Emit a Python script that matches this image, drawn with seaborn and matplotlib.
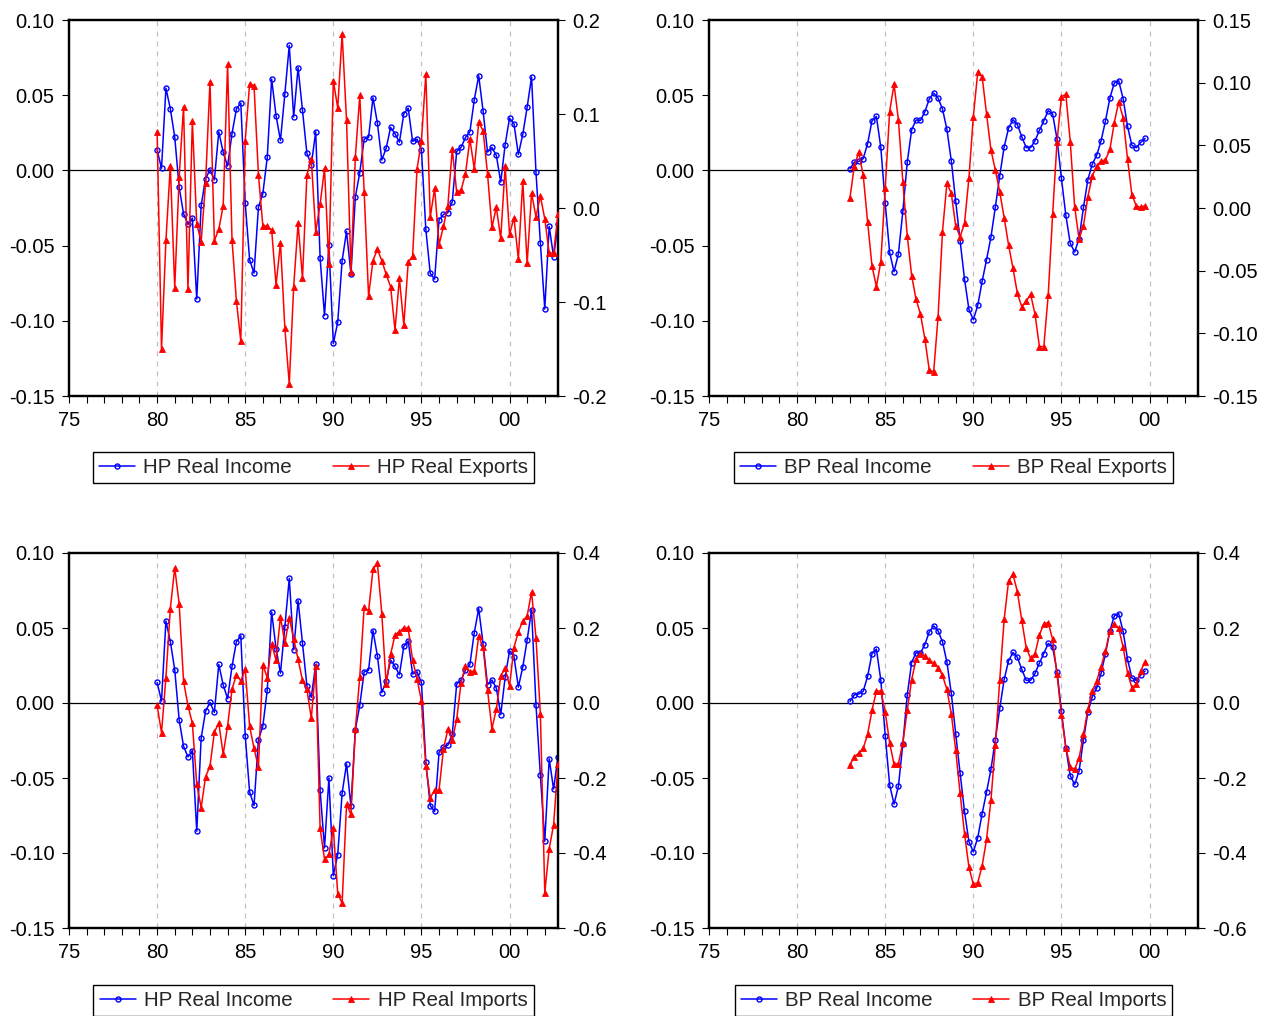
import numpy as np
import pandas as pd
import matplotlib
matplotlib.use("Agg")
import matplotlib.pyplot as plt
import seaborn as sns
from matplotlib.lines import Line2D
from matplotlib.ticker import MultipleLocator

sns.set_style("ticks")
plt.rcParams['font.family'] = ['Liberation Sans', 'DejaVu Sans']

# ---------------- data ----------------
hp_start = 1980.0      # 1980Q1 .. 2002Q4
bp_start = 1983.0      # 1983Q1 .. 1999Q4

hp_income = [0.0137, 0.0013, 0.0547, 0.0410, 0.0222, -0.0111, -0.0288, -0.0359, -0.0317, -0.0855,
             -0.0233, -0.0055, 0.0004, -0.0062, 0.0257, 0.0120, 0.0029, 0.0244, 0.0408, 0.0448,
             -0.0217, -0.0594, -0.0683, -0.0244, -0.0155, 0.0086, 0.0607, 0.0363, 0.0199, 0.0510,
             0.0831, 0.0355, 0.0683, 0.0399, 0.0115, 0.0038, 0.0257, -0.0583, -0.0966, -0.0499,
             -0.1150, -0.1010, -0.0600, -0.0406, -0.0687, -0.0177, -0.0016, 0.0208, 0.0219, 0.0483,
             0.0315, 0.0069, 0.0148, 0.0286, 0.0244, 0.0188, 0.0377, 0.0414, 0.0193, 0.0208,
             0.0137, -0.0392, -0.0685, -0.0723, -0.0328, -0.0293, -0.0281, -0.0208, 0.0126, 0.0153,
             0.0219, 0.0257, 0.0470, 0.0629, 0.0394, 0.0122, 0.0153, 0.0100, -0.0078, 0.0171,
             0.0348, 0.0310, 0.0106, 0.0239, 0.0421, 0.0621, -0.0011, -0.0483, -0.0922, -0.0372,
             -0.0574, -0.0357]

hp_exports = [0.0812, -0.1500, -0.0344, 0.0450, -0.0848, 0.0326, 0.1078, -0.0862, 0.0926, -0.0170,
              -0.0358, 0.0266, 0.1344, -0.0348, -0.0227, 0.0025, 0.1528, -0.0337, -0.0989, -0.1418,
              0.0716, 0.1323, 0.1301, 0.0355, -0.0188, -0.0195, -0.0234, -0.0819, -0.0372, -0.1280,
              -0.1872, -0.0837, -0.0163, -0.0748, 0.0351, 0.0518, -0.0252, 0.0039, 0.0422, -0.0599,
              0.1355, 0.1064, 0.1851, 0.0933, -0.0677, 0.0543, 0.1199, 0.0174, -0.0936, -0.0560,
              -0.0440, -0.0560, -0.0706, -0.0837, -0.1298, -0.0748, -0.1245, -0.0578, -0.0511, 0.0415,
              0.0713, 0.1426, -0.0096, 0.0209, -0.0390, -0.0195, 0.0025, 0.0628, 0.0167, 0.0191,
              0.0365, 0.0734, 0.0415, 0.0911, 0.0823, 0.0365, -0.0206, 0.0007, -0.0323, 0.0443,
              -0.0280, -0.0103, -0.0543, 0.0287, -0.0589, 0.0160, -0.0096, 0.0128, -0.0117, -0.0479,
              -0.0479, -0.0067]

hp_imports = [-0.0062, -0.0790, 0.0676, 0.2516, 0.3610, 0.2650, 0.0587, -0.0071, -0.0542, -0.2169,
              -0.2791, -0.1964, -0.1689, -0.0773, -0.0533, -0.1369, -0.0613, 0.0364, 0.0756, 0.0587,
              0.0898, -0.0622, -0.1209, -0.1707, 0.1022, 0.0676, 0.1564, 0.1147, 0.2302, 0.1591,
              0.2276, 0.1716, 0.1164, 0.0604, 0.0364, -0.0409, 0.0987, -0.3342, -0.4169, -0.4036,
              -0.3342, -0.5084, -0.5342, -0.2702, -0.2969, -0.0702, 0.0693, 0.2560, 0.2453, 0.3564,
              0.3742, 0.2382, 0.0498, 0.1298, 0.1813, 0.1902, 0.2009, 0.1991, 0.1138, 0.0649,
              0.0053, -0.1680, -0.2524, -0.2320, -0.2320, -0.1227, -0.0702, -0.0996, -0.0436, 0.0542,
              0.0978, 0.0836, 0.0853, 0.1787, 0.1493, 0.0347, -0.0684, -0.0169, 0.0720, 0.0924,
              0.0453, 0.1476, 0.1902, 0.2178, 0.2320, 0.2960, 0.1742, -0.0284, -0.5058, -0.3884,
              -0.3253, -0.1636]

bp_income = [0.0011, 0.0055, 0.0060, 0.0078, 0.0177, 0.0330, 0.0359, 0.0153, -0.0217, -0.0545,
             -0.0674, -0.0554, -0.0273, 0.0053, 0.0270, 0.0335, 0.0332, 0.0390, 0.0474, 0.0514,
             0.0481, 0.0408, 0.0273, 0.0064, -0.0206, -0.0468, -0.0723, -0.0924, -0.0993, -0.0898,
             -0.0738, -0.0594, -0.0443, -0.0244, -0.0035, 0.0157, 0.0281, 0.0337, 0.0304, 0.0224,
             0.0151, 0.0151, 0.0197, 0.0266, 0.0330, 0.0397, 0.0375, 0.0208, -0.0053, -0.0299,
             -0.0485, -0.0543, -0.0454, -0.0246, -0.0062, 0.0042, 0.0100, 0.0197, 0.0330, 0.0481,
             0.0581, 0.0596, 0.0477, 0.0293, 0.0166, 0.0151, 0.0186, 0.0213]

bp_exports = [0.0082, 0.0338, 0.0444, 0.0263, -0.0109, -0.0463, -0.0628, -0.0428, 0.0157, 0.0769,
              0.0987, 0.0702, 0.0210, -0.0221, -0.0540, -0.0729, -0.0846, -0.1045, -0.1293, -0.1306,
              -0.0867, -0.0189, 0.0197, 0.0117, -0.0144, -0.0229, -0.0122, 0.0237, 0.0729, 0.1082,
              0.1048, 0.0750, 0.0463, 0.0303, 0.0128, -0.0077, -0.0295, -0.0481, -0.0681, -0.0787,
              -0.0742, -0.0689, -0.0846, -0.1106, -0.1106, -0.0694, -0.0051, 0.0529, 0.0888, 0.0907,
              0.0529, 0.0011, -0.0247, -0.0141, 0.0090, 0.0255, 0.0335, 0.0375, 0.0383, 0.0468,
              0.0681, 0.0848, 0.0721, 0.0391, 0.0104, 0.0016, 0.0005, 0.0019]

bp_imports = [-0.1644, -0.1431, -0.1342, -0.1209, -0.0836, -0.0196, 0.0320, 0.0320, -0.0240, -0.1058,
              -0.1636, -0.1618, -0.1058, -0.0196, 0.0622, 0.1164, 0.1316, 0.1253, 0.1147, 0.1058,
              0.0942, 0.0738, 0.0364, -0.0284, -0.1262, -0.2409, -0.3484, -0.4373, -0.4836, -0.4791,
              -0.4347, -0.3636, -0.2587, -0.1111, 0.0622, 0.2231, 0.3253, 0.3431, 0.2969, 0.2204,
              0.1476, 0.1191, 0.1316, 0.1813, 0.2116, 0.2142, 0.1698, 0.0764, -0.0329, -0.1191,
              -0.1707, -0.1769, -0.1476, -0.0836, -0.0169, 0.0320, 0.0587, 0.0969, 0.1387, 0.1920,
              0.2116, 0.1991, 0.1493, 0.0809, 0.0409, 0.0498, 0.0853, 0.1102]

x_tick_years = [1975, 1980, 1985, 1990, 1995, 2000]
x_tick_labels = ["75", "80", "85", "90", "95", "00"]

left_ticks = [0.10, 0.05, 0.00, -0.05, -0.10, -0.15]
left_labels = ["0.10", "0.05", "0.00", "-0.05", "-0.10", "-0.15"]

r1_ticks = [0.2, 0.1, 0.0, -0.1, -0.2]
r1_labels = ["0.2", "0.1", "0.0", "-0.1", "-0.2"]
r2_ticks = [0.15, 0.10, 0.05, 0.00, -0.05, -0.10, -0.15]
r2_labels = ["0.15", "0.10", "0.05", "0.00", "-0.05", "-0.10", "-0.15"]
r3_ticks = [0.4, 0.2, 0.0, -0.2, -0.4, -0.6]
r3_labels = ["0.4", "0.2", "0.0", "-0.2", "-0.4", "-0.6"]

hp_dates = hp_start + np.arange(len(hp_income)) / 4.0
bp_dates = bp_start + np.arange(len(bp_income)) / 4.0

W, H = 1267, 1016
fig = plt.figure(figsize=(W / 100, H / 100), dpi=100)
fig.patch.set_facecolor("white")

BLUE = "#0000FF"
RED = "#FF0000"
FS = 14.5
LFS = 14.8

panels = [
    dict(px=(69, 20, 558, 396), leg_top=452, x=hp_dates, left=hp_income, right=hp_exports,
         labels=("HP Real Income", "HP Real Exports"), rlim=(-0.2, 0.2), rt=r1_ticks, rl=r1_labels),
    dict(px=(709, 20, 1198, 396), leg_top=452, x=bp_dates, left=bp_income, right=bp_exports,
         labels=("BP Real Income", "BP Real Exports"), rlim=(-0.15, 0.15), rt=r2_ticks, rl=r2_labels),
    dict(px=(69, 553, 558, 928), leg_top=985, x=hp_dates, left=hp_income, right=hp_imports,
         labels=("HP Real Income", "HP Real Imports"), rlim=(-0.6, 0.4), rt=r3_ticks, rl=r3_labels),
    dict(px=(709, 553, 1198, 928), leg_top=985, x=bp_dates, left=bp_income, right=bp_imports,
         labels=("BP Real Income", "BP Real Imports"), rlim=(-0.6, 0.4), rt=r3_ticks, rl=r3_labels),
]

blue_kw = dict(color=BLUE, marker="o", markersize=3.6, markerfacecolor="none",
               markeredgecolor=BLUE, markeredgewidth=1.0, linewidth=1.1)
red_kw = dict(color=RED, marker="^", markersize=4.2, markerfacecolor=RED,
              markeredgecolor=RED, markeredgewidth=0.6, linewidth=1.1)

for p in panels:
    l, t, r, b = p["px"]
    rect = [l / W, 1 - b / H, (r - l) / W, (b - t) / H]
    ax = fig.add_axes(rect)
    ax.set_facecolor("white")
    for yr in [1980, 1985, 1990, 1995, 2000]:
        ax.axvline(yr, color="#c0c0c0", linewidth=0.9, linestyle=(0, (4, 4)), zorder=1)
    ax.axhline(0, color="black", linewidth=0.9, zorder=2)

    df_l = pd.DataFrame({"date": p["x"], "value": p["left"]})
    sns.lineplot(data=df_l, x="date", y="value", ax=ax, legend=False, zorder=3, **blue_kw)
    ax.set_xlim(1975, 2002.75)
    ax.set_ylim(-0.15, 0.10)
    ax.set_yticks(left_ticks)
    ax.set_yticklabels(left_labels)
    ax.set_xticks(x_tick_years)
    ax.set_xticklabels(x_tick_labels)
    ax.xaxis.set_minor_locator(MultipleLocator(1))
    ax.set_xlabel("")
    ax.set_ylabel("")
    ax.tick_params(axis="both", which="both", direction="out", length=5, width=0.8,
                   colors="black", labelsize=FS)
    ax.tick_params(axis="x", which="both", top=False, bottom=True, pad=5.5)
    ax.tick_params(axis="y", left=True, right=False, pad=5.5)

    ax2 = ax.twinx()
    df_r = pd.DataFrame({"date": p["x"], "value": p["right"]})
    sns.lineplot(data=df_r, x="date", y="value", ax=ax2, legend=False, zorder=3, **red_kw)
    ax2.set_xlim(1975, 2002.75)
    ax2.set_ylim(*p["rlim"])
    ax2.set_yticks(p["rt"])
    ax2.set_yticklabels(p["rl"])
    ax2.set_ylabel("")
    ax2.tick_params(axis="y", direction="out", length=5, width=0.8, colors="black",
                    labelsize=FS, pad=5, right=True, left=False)

    for a in (ax, ax2):
        for s in a.spines.values():
            s.set_visible(True)
            s.set_color("black")
            s.set_linewidth(1.6)

    handles = [Line2D([], [], **blue_kw), Line2D([], [], **red_kw)]
    leg = ax2.legend(handles, list(p["labels"]), loc="upper center",
                     bbox_to_anchor=(0.5, -(p["leg_top"] - b) / (b - t)),
                     borderaxespad=0.0,
                     ncol=2, frameon=True, fancybox=False, edgecolor="black", framealpha=1,
                     fontsize=LFS, handlelength=1.75, handletextpad=0.4, columnspacing=2.0,
                     borderpad=0.3, numpoints=1)
    leg.get_frame().set_linewidth(1.0)

fig.savefig("out.png", dpi=100, facecolor="white")
